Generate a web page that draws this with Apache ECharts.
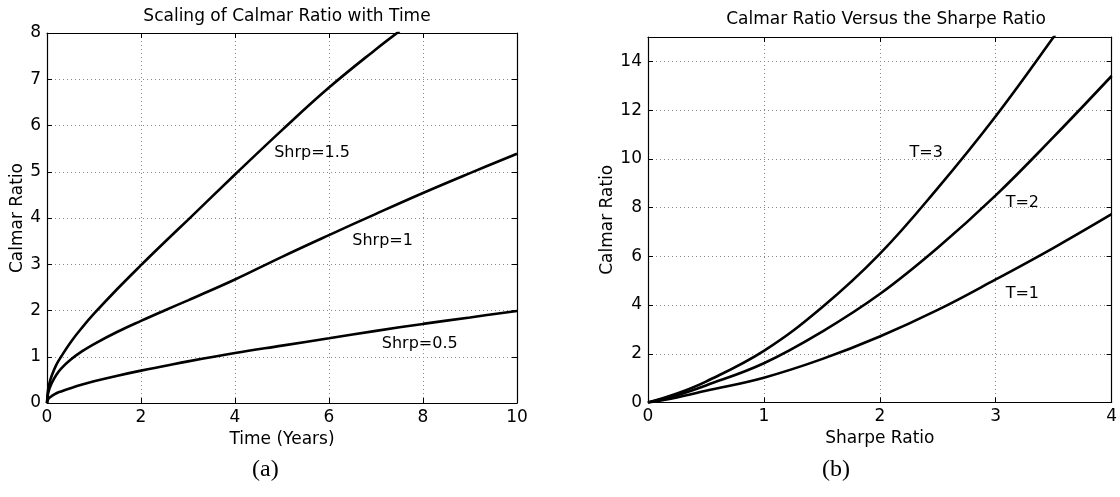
<!DOCTYPE html>
<html>
<head>
    <meta charset="utf-8">
    <title>Calmar Ratio</title>
    <script src="https://cdn.jsdelivr.net/npm/echarts@6/dist/echarts.min.js"></script>
    <style>
        body { margin: 0; background: #fff; }
        #main { width: 1120px; height: 497px; }
    </style>
</head>
<body>
<div id="main"></div>
<script>
    // ---- (a) Calmar ratio vs time, one curve per Sharpe ratio
    var shrp15Time = [0, 0.02, 0.05, 0.1, 0.2, 0.3, 0.5, 0.75, 1, 1.5, 2, 2.5, 3, 4, 5, 6, 7, 7.5];
    var shrp15Calmar = [0, 0.26, 0.42, 0.59, 0.83, 1.0, 1.31, 1.635, 1.93, 2.47, 2.98, 3.475, 3.96, 4.94, 5.9, 6.82, 7.65, 8.04];
    var timeYears = [0, 0.02, 0.05, 0.1, 0.2, 0.3, 0.5, 0.75, 1, 1.5, 2, 2.5, 3, 4, 5, 6, 7, 8, 9, 10];
    var shrp10Calmar = [0, 0.19, 0.3, 0.43, 0.61, 0.745, 0.935, 1.12, 1.275, 1.54, 1.775, 2.0, 2.22, 2.67, 3.16, 3.63, 4.09, 4.54, 4.97, 5.39];
    var shrp05Calmar = [0, 0.07, 0.11, 0.15, 0.21, 0.25, 0.32, 0.4, 0.47, 0.59, 0.70, 0.8, 0.9, 1.08, 1.24, 1.40, 1.56, 1.71, 1.85, 1.99];
    var leftLabels = ['Shrp=1.5', 'Shrp=1', 'Shrp=0.5'];
    var leftLabelPos = [[5.64, 5.4], [7.14, 3.5], [7.93, 1.27]];

    // ---- (b) Calmar ratio vs Sharpe ratio, one curve per horizon T
    var sharpe = [0, 0.25, 0.5, 1, 1.5, 2, 2.5, 3, 3.5, 4];
    var t1Calmar = [0, 0.21, 0.48, 1.02, 1.78, 2.71, 3.8, 5.05, 6.35, 7.73];
    var t2Calmar = [0, 0.3, 0.7, 1.61, 2.9, 4.45, 6.35, 8.5, 10.9, 13.4];
    var t3Sharpe = [0, 0.25, 0.5, 1, 1.5, 2, 2.5, 3, 3.5, 3.6];
    var t3Calmar = [0, 0.37, 0.86, 2.12, 3.9, 6.1, 8.8, 11.75, 15.0, 15.7];
    var rightLabels = ['T=3', 'T=2', 'T=1'];
    var rightLabelPos = [[2.40, 10.25], [3.23, 8.2], [3.23, 4.47]];

    var font = 'DejaVu Sans';

    function pairs(xs, ys) {
        var out = [];
        for (var i = 0; i < xs.length; i++) out.push([xs[i], ys[i]]);
        return out;
    }

    function curve(xi, yi, xs, ys) {
        return {
            type: 'line', xAxisIndex: xi, yAxisIndex: yi,
            data: pairs(xs, ys), showSymbol: false, smooth: 0.4,
            lineStyle: {color: '#000', width: 2.6}, clip: true, silent: true
        };
    }

    // curve names written inside the plot
    function textMarks(xi, yi, names, pos) {
        var data = [];
        for (var i = 0; i < names.length; i++) data.push({name: names[i], value: pos[i]});
        return {
            type: 'scatter', xAxisIndex: xi, yAxisIndex: yi, data: data,
            symbolSize: 1, itemStyle: {color: 'rgba(0,0,0,0)'}, silent: true,
            label: {show: true, position: 'inside', formatter: '{b}', color: '#000', opacity: 1,
                textBorderWidth: 0, fontFamily: font, fontSize: 16}
        };
    }

    function mainAxis(pos, gi, min, max, interval, name, gap, extra) {
        var ax = {
            type: 'value', gridIndex: gi, position: pos, min: min, max: max, interval: interval,
            name: name, nameLocation: 'middle', nameGap: gap,
            nameTextStyle: {color: '#000', fontFamily: font, fontSize: 17},
            axisLine: {show: true, onZero: false, lineStyle: {color: '#000', width: 1.2}},
            axisTick: {show: true, inside: true, length: 5, lineStyle: {color: '#000'}},
            axisLabel: {color: '#000', fontFamily: font, fontSize: 17, margin: 6},
            splitLine: {show: true, lineStyle: {color: '#888', type: [1, 3], width: 1}}
        };
        for (var k in extra) ax[k] = extra[k];
        return ax;
    }

    function boxAxis(pos, gi, min, max, interval) {
        return {
            type: 'value', gridIndex: gi, position: pos, min: min, max: max, interval: interval,
            axisLine: {show: true, onZero: false, lineStyle: {color: '#000', width: 1.2}},
            axisTick: {show: true, inside: true, length: 5, lineStyle: {color: '#000'}},
            axisLabel: {show: false}, splitLine: {show: false}
        };
    }

    var chart = echarts.init(document.getElementById('main'));

    var option = {
        animation: false,
        backgroundColor: '#fff',
        title: [
            {text: 'Scaling of Calmar Ratio with Time', left: 282, top: 3, textAlign: 'center',
                textStyle: {color: '#000', fontFamily: font, fontSize: 17, fontWeight: 'normal'}},
            {text: 'Calmar Ratio Versus the Sharpe Ratio', left: 881, top: 6, textAlign: 'center',
                textStyle: {color: '#000', fontFamily: font, fontSize: 17, fontWeight: 'normal'}}
        ],
        grid: [
            {left: 47, top: 33, width: 470, height: 370, containLabel: false},
            {left: 648, top: 37, width: 465, height: 365.5, containLabel: false}
        ],
        xAxis: [
            mainAxis('bottom', 0, 0, 10, 2, 'Time (Years)', 25, {}),
            mainAxis('bottom', 1, 0, 4, 1, 'Sharpe Ratio', 25, {}),
            boxAxis('top', 0, 0, 10, 2),
            boxAxis('top', 1, 0, 4, 1)
        ],
        yAxis: [
            mainAxis('left', 0, 0, 8, 1, 'Calmar Ratio', 20, {}),
            mainAxis('left', 1, 0, 15, 2, 'Calmar Ratio', 30, {axisLabel: {color: '#000', fontFamily: font, fontSize: 17, margin: 6, showMaxLabel: false}}),
            boxAxis('right', 0, 0, 8, 1),
            boxAxis('right', 1, 0, 15, 2)
        ],
        graphic: [
            {type: 'text', left: 252, top: 458, style: {text: '(a)', font: '24px "Liberation Serif"', fill: '#000'}},
            {type: 'text', left: 822, top: 458, style: {text: '(b)', font: '24px "Liberation Serif"', fill: '#000'}}
        ],
        series: [
            curve(0, 0, shrp15Time, shrp15Calmar),
            curve(0, 0, timeYears, shrp10Calmar),
            curve(0, 0, timeYears, shrp05Calmar),
            textMarks(0, 0, leftLabels, leftLabelPos),
            curve(1, 1, t3Sharpe, t3Calmar),
            curve(1, 1, sharpe, t2Calmar),
            curve(1, 1, sharpe, t1Calmar),
            textMarks(1, 1, rightLabels, rightLabelPos)
        ]
    };

    chart.setOption(option);
</script>
</body>
</html>
